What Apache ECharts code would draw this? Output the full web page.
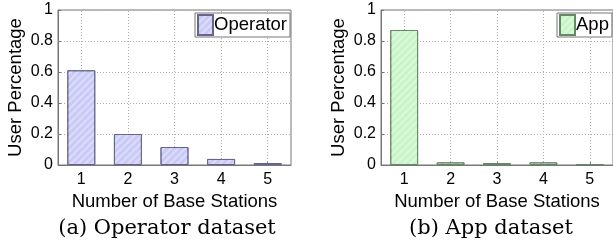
<!DOCTYPE html>
<html>
<head>
<meta charset="utf-8">
<script src="https://cdn.jsdelivr.net/npm/echarts@6/dist/echarts.min.js"></script>
<style>
  html, body { margin: 0; padding: 0; background: #fff; }
  #chart { width: 613px; height: 245px; }
</style>
</head>
<body>
<div id="chart"></div>
<script>
  // data
  var categories = ['1', '2', '3', '4', '5'];
  var operatorValues = [0.611, 0.2, 0.116, 0.039, 0.013];
  var appValues = [0.871, 0.017, 0.013, 0.017, 0.006];
  var yTicks = { min: 0, max: 1, interval: 0.2 };

  var chart = echarts.init(document.getElementById('chart'), null, { renderer: 'canvas' });
  var sans = 'Liberation Sans';
  var gridDot = { color: '#acacac', type: [1, 2], width: 1 };

  // MATLAB-ish axis pair for one panel
  var makeX = function (idx) {
    return {
      type: 'category', gridIndex: idx, data: categories,
      name: 'Number of Base Stations', nameLocation: 'middle', nameGap: 21,
      nameTextStyle: { fontFamily: sans, fontSize: 18.5, color: '#000' },
      axisLine: { lineStyle: { color: '#777' } },
      axisTick: { show: true, inside: true, length: 3, alignWithLabel: true, lineStyle: { color: '#777' } },
      axisLabel: { fontFamily: sans, fontSize: 16, color: '#000', margin: 7 },
      splitLine: { show: false }
    };
  };
  var makeY = function (idx) {
    return {
      type: 'value', gridIndex: idx, min: yTicks.min, max: yTicks.max, interval: yTicks.interval,
      name: 'User Percentage', nameLocation: 'middle', nameGap: 33,
      nameTextStyle: { fontFamily: sans, fontSize: 18.5, color: '#000' },
      axisLine: { show: true, lineStyle: { color: '#777' } },
      axisTick: { show: true, inside: true, length: 3, lineStyle: { color: '#777' } },
      axisLabel: { fontFamily: sans, fontSize: 16, color: '#000', margin: 5 },
      splitLine: { show: true, lineStyle: gridDot }
    };
  };
  var hatch = function (c) {
    return { symbol: 'rect', color: c, dashArrayX: [1, 0], dashArrayY: [2, 3], rotation: -Math.PI / 4 };
  };
  // vertical dotted grid at the category ticks, kept under the bars
  var vGrid = {
    silent: true, symbol: 'none', z: 1, label: { show: false },
    lineStyle: gridDot,
    data: categories.map(function (c) { return { xAxis: c }; })
  };
  var legendBase = function (name, left) {
    return {
      data: [name], left: left, top: 13, padding: [1, 3, 1, 2], itemWidth: 15, itemHeight: 20,
      icon: 'rect',
      borderColor: '#777', borderWidth: 1, backgroundColor: '#fff', borderRadius: 0,
      textStyle: { fontFamily: sans, fontSize: 18.5, color: '#000', padding: [0, 0, 0, -4] }
    };
  };

  chart.setOption({
    animation: false,
    grid: [
      { left: 58, top: 10, width: 233, height: 155, show: true, borderColor: '#777', borderWidth: 1 },
      { left: 381, top: 10, width: 233, height: 155, show: true, borderColor: '#777', borderWidth: 1 }
    ],
    xAxis: [makeX(0), makeX(1)],
    yAxis: [makeY(0), makeY(1)],
    legend: [legendBase('Operator', 195), legendBase('App', 557)],
    title: [
      { text: '(a) Operator dataset', left: 162, top: 213, textAlign: 'center',
        textStyle: { fontFamily: 'DejaVu Serif', fontSize: 21, fontWeight: 'normal', color: '#000' } },
      { text: '(b) App dataset', left: 486, top: 213, textAlign: 'center',
        textStyle: { fontFamily: 'DejaVu Serif', fontSize: 21, fontWeight: 'normal', color: '#000' } }
    ],
    series: [
      {
        name: 'Operator', type: 'bar', xAxisIndex: 0, yAxisIndex: 0, data: operatorValues,
        barWidth: '60%', z: 2,
        itemStyle: { color: '#cacaf7', borderColor: '#66668c', borderWidth: 1, decal: hatch('rgba(255,255,255,0.35)') },
        markLine: vGrid
      },
      {
        name: 'App', type: 'bar', xAxisIndex: 1, yAxisIndex: 1, data: appValues,
        barWidth: '60%', z: 2,
        itemStyle: { color: '#c8f5c8', borderColor: '#668866', borderWidth: 1, decal: hatch('rgba(255,255,255,0.35)') },
        markLine: vGrid
      }
    ]
  });
</script>
</body>
</html>
